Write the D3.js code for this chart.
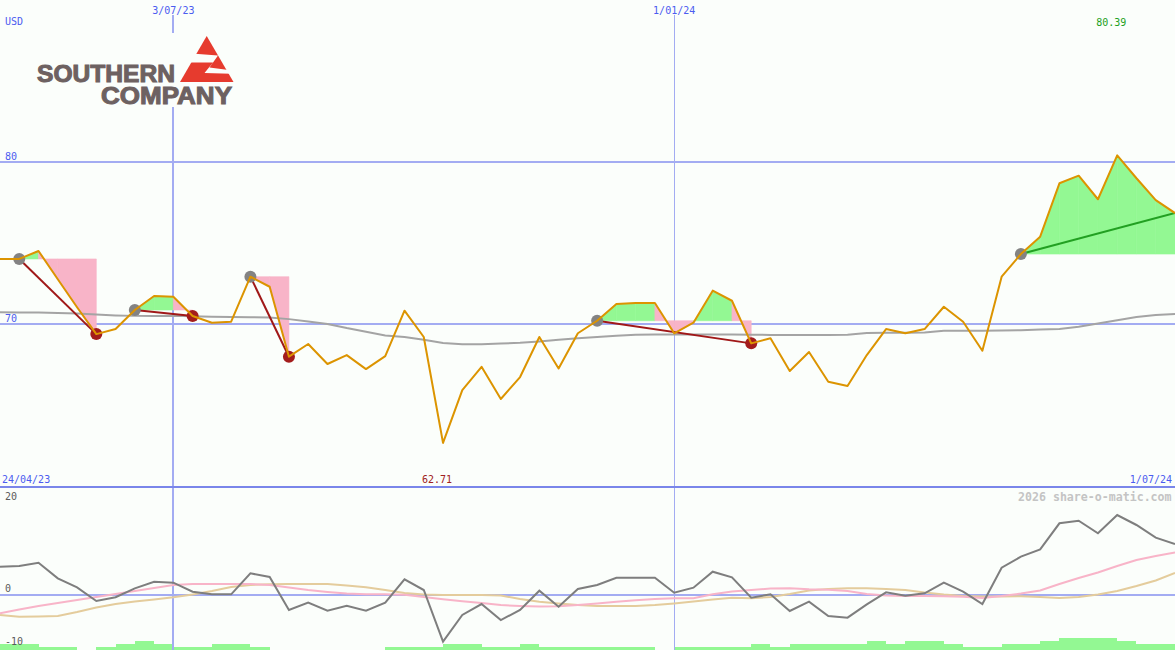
<!DOCTYPE html>
<html>
<head>
<meta charset="utf-8">
<script src="https://cdn.jsdelivr.net/npm/d3@7"></script>
<style>
  html, body { margin: 0; padding: 0; background: #fbfefb; overflow: hidden; }
</style>
</head>
<body>
<div id="chart"></div>
<script>
// weekly closes, first week 1/05/23, last week 1/07/24
const firstWeek = '2023-05-01';
const rangeLabels = ['24/04/23', '1/07/24'];
const currency = 'USD';
const credit = '2026 share-o-matic.com';

const price = [
  74.02, 74.02, 74.51, 72.77, 71.05, 69.40, 69.71, 70.88, 71.74, 71.70,
  70.51, 70.10, 70.16, 72.93, 72.31, 68.01, 68.79, 67.56, 68.11, 67.25,
  68.05, 70.84, 69.22, 62.71, 65.96, 67.39, 65.41, 66.76, 69.22, 67.29,
  69.45, 70.22, 71.25, 71.31, 71.31, 69.45, 70.10, 72.07, 71.45, 68.83,
  69.14, 67.13, 68.30, 66.47, 66.21, 68.11, 69.71, 69.45, 69.71, 71.08,
  70.16, 68.38, 72.93, 74.32, 75.39, 78.67, 79.14, 77.69, 80.39, 78.98,
  77.64, 76.84
];
const longAverage = [
  70.74, 70.73, 70.72, 70.70, 70.66, 70.60, 70.55, 70.52, 70.51, 70.52,
  70.49, 70.46, 70.45, 70.44, 70.42, 70.32, 70.17, 70.02, 69.77, 69.55,
  69.32, 69.22, 69.05, 68.85, 68.77, 68.77, 68.82, 68.87, 68.95, 69.05,
  69.14, 69.22, 69.30, 69.36, 69.38, 69.38, 69.38, 69.38, 69.38, 69.36,
  69.35, 69.34, 69.34, 69.34, 69.36, 69.46, 69.48, 69.48, 69.50, 69.60,
  69.61, 69.61, 69.62, 69.64, 69.69, 69.72, 69.85, 70.05, 70.25, 70.45,
  70.58, 70.64
];
const momentum = [
  5.34, 5.47, 6.09, 3.15, 1.45, -1.13, -0.43, 1.26, 2.51, 2.32,
  0.62, 0.13, 0.13, 4.09, 3.40, -2.83, -1.45, -2.96, -2.02, -2.96,
  -1.45, 2.96, 0.94, -8.81, -3.77, -1.70, -4.72, -2.83, 0.81, -2.21,
  1.13, 1.89, 3.26, 3.26, 3.26, 0.43, 1.38, 4.40, 3.34, -0.51,
  0.13, -3.02, -1.26, -3.96, -4.28, -1.77, 0.51, -0.13, 0.32, 2.32,
  0.62, -1.70, 5.15, 7.23, 8.62, 13.53, 14.02, 11.64, 15.09, 13.21,
  10.81, 9.62
];
const momentumFast = [
  -3.45, -2.74, -2.08, -1.51, -0.94, -0.38, 0.19, 0.75, 1.32, 1.89,
  2.08, 2.08, 2.08, 2.08, 1.89, 1.42, 0.94, 0.57, 0.28, 0.13,
  0.13, 0.06, -0.38, -0.79, -1.19, -1.51, -1.89, -2.08, -2.19, -2.13,
  -1.89, -1.60, -1.28, -1.00, -0.75, -0.62, -0.62, 0.13, 0.64, 0.94,
  1.23, 1.26, 1.08, 1.00, 0.75, 0.19, -0.09, -0.19, -0.19, -0.23,
  -0.32, -0.57, -0.19, 0.28, 0.85, 2.08, 3.21, 4.25, 5.47, 6.60,
  7.36, 8.02
];
const momentumSlow = [
  -3.77, -4.09, -4.06, -3.96, -3.21, -2.36, -1.70, -1.23, -0.85, -0.43,
  0.09, 0.75, 1.51, 1.89, 2.04, 2.08, 2.08, 2.08, 1.79, 1.45,
  0.94, 0.38, 0.09, 0.00, 0.00, 0.00, -0.09, -0.75, -1.26, -1.60,
  -1.89, -2.08, -2.08, -2.08, -1.89, -1.60, -1.23, -0.85, -0.51, -0.62,
  -0.38, 0.19, 0.85, 1.13, 1.26, 1.26, 1.13, 0.94, 0.47, 0.09,
  -0.19, -0.28, -0.28, -0.23, -0.38, -0.57, -0.38, 0.09, 0.75, 1.70,
  2.74, 4.15
];
const volume = [
  2, 2, 1, 1, 0, 1, 2, 3, 2, 1,
  1, 2, 2, 1, 0, 0, 0, 0, 0, 0,
  1, 1, 1, 2, 2, 1, 1, 2, 1, 1,
  1, 1, 1, 1, 0, 1, 1, 1, 1, 2,
  1, 2, 2, 2, 2, 3, 2, 3, 3, 2,
  1, 1, 2, 2, 3, 4, 4, 4, 3, 2,
  2, 2
];

// trades: week index of buy and sell (null = still open)
const tradeBuy = [1, 7, 13, 31, 53];
const tradeSell = [5, 10, 15, 39, null];

const priceTicks = [80, 70];
const oscTicks = [20, 0, -10];
const dateLines = ['2023-07-03', '2024-01-01'];
const dateLineLabels = ['3/07/23', '1/01/24'];

const W = 1175, H = 650;
const BG = '#fbfefb';
const BLUE_TEXT = '#4b5cf0';
const GRID = '#a3acf2';
const GREEN_FILL = '#93f893';
const PINK_FILL = '#f8b4c8';
const MONO = '"DejaVu Sans Mono", monospace';

const parse = d3.timeParse('%Y-%m-%d');
const start = parse(firstWeek);
const dates = price.map((_, i) => d3.timeDay.offset(start, 7 * i));

const x = d3.scaleTime().domain([dates[0], dates[dates.length - 1]]).range([0, W]);
const yP = d3.scaleLinear().domain([60, 90]).range([487, -1]);
const yO = d3.scaleLinear().domain([-10, 20]).range([648, 489]);
const yV = d3.scaleLinear().domain([0, 4]).range([650, 638.4]);

const svg = d3.select('#chart').append('svg')
  .attr('width', W).attr('height', H)
  .style('display', 'block');

svg.append('rect').attr('width', W).attr('height', H).attr('fill', BG);

// Volume bars (bottom strip)
svg.append('g').attr('shape-rendering', 'crispEdges')
  .selectAll('rect')
  .data(volume.map((v, i) => ({ v, i })).filter(d => d.v > 0))
  .join('rect')
  .attr('x', d => x(dates[d.i]))
  .attr('width', d => (d.i + 1 < dates.length ? x(dates[d.i + 1]) : W) - x(dates[d.i]))
  .attr('y', d => yV(d.v))
  .attr('height', d => yV(0) - yV(d.v))
  .attr('fill', GREEN_FILL);

// Horizontal grid
const grid = svg.append('g').attr('shape-rendering', 'crispEdges');
grid.selectAll('line.p')
  .data(priceTicks)
  .join('line')
  .attr('x1', 0).attr('x2', W)
  .attr('y1', d => yP(d)).attr('y2', d => yP(d))
  .attr('stroke', GRID).attr('stroke-width', 2);

grid.append('line')
  .attr('x1', 0).attr('x2', W)
  .attr('y1', yO(0)).attr('y2', yO(0))
  .attr('stroke', GRID).attr('stroke-width', 2);

// Vertical date lines
grid.selectAll('line.d')
  .data(dateLines)
  .join('line')
  .attr('x1', d => x(parse(d))).attr('x2', d => x(parse(d)))
  .attr('y1', 15).attr('y2', H)
  .attr('stroke', GRID)
  .attr('stroke-width', (d, i) => (i === 0 ? 2 : 1));

// Separator between price and indicator panels
grid.append('line')
  .attr('x1', 0).attr('x2', W)
  .attr('y1', yP(60)).attr('y2', yP(60))
  .attr('stroke', '#7a86ea').attr('stroke-width', 2);

// Trade shading: each week coloured by where the week closes vs the buy price
const trades = tradeBuy.map((b, k) => {
  const s = tradeSell[k] === null ? price.length - 1 : tradeSell[k];
  return { b, s, open: tradeSell[k] === null, entry: price[b] };
});

const fills = svg.append('g');
trades.forEach(t => {
  for (let k = t.b; k < t.s; k++) {
    const up = price[k + 1] >= t.entry;
    const pts = [
      [x(dates[k]), yP(t.entry)],
      [x(dates[k]), yP(price[k])],
      [x(dates[k + 1]), yP(price[k + 1])],
      [x(dates[k + 1]), yP(t.entry)]
    ];
    fills.append('path')
      .attr('d', d3.line()(pts) + 'Z')
      .attr('fill', up ? GREEN_FILL : PINK_FILL)
      .attr('stroke', up ? GREEN_FILL : PINK_FILL)
      .attr('stroke-width', 0.6);
  }
});

// Long moving average
svg.append('path')
  .datum(longAverage)
  .attr('d', d3.line().x((d, i) => x(dates[i])).y(d => yP(d)))
  .attr('fill', 'none').attr('stroke', '#a4a4a4').attr('stroke-width', 2);

// Trade lines
svg.append('g').selectAll('line')
  .data(trades)
  .join('line')
  .attr('x1', d => x(dates[d.b])).attr('y1', d => yP(price[d.b]))
  .attr('x2', d => x(dates[d.s])).attr('y2', d => yP(price[d.s]))
  .attr('stroke', d => (price[d.s] >= d.entry ? '#22a022' : '#a01818'))
  .attr('stroke-width', 2);

// Buy / sell markers
const markers = svg.append('g');
markers.selectAll('circle.b')
  .data(tradeBuy)
  .join('circle')
  .attr('cx', d => x(dates[d])).attr('cy', d => yP(price[d]))
  .attr('r', 6).attr('fill', '#838383');
markers.selectAll('circle.s')
  .data(tradeSell.filter(d => d !== null))
  .join('circle')
  .attr('cx', d => x(dates[d])).attr('cy', d => yP(price[d]))
  .attr('r', 6).attr('fill', '#a31c1c');

// Price line
svg.append('path')
  .datum(price)
  .attr('d', d3.line().x((d, i) => x(dates[i])).y(d => yP(d)))
  .attr('fill', 'none').attr('stroke', '#dc9400').attr('stroke-width', 2)
  .attr('stroke-linejoin', 'round');

// Oscillators
const oscLine = d3.line().x((d, i) => x(dates[i])).y(d => yO(d));
[[momentumSlow, '#e4cc9c'], [momentumFast, '#f8b4c8'], [momentum, '#7e7e7e']].forEach(([s, c]) => {
  svg.append('path')
    .datum(s)
    .attr('d', oscLine)
    .attr('fill', 'none').attr('stroke', c).attr('stroke-width', 2);
});

// Logo
const logo = svg.append('g');
logo.append('rect').attr('x', 30).attr('y', 33).attr('width', 212).attr('height', 74).attr('fill', BG);
logo.append('path')
  .attr('d', 'M206.7,36 L180,82 L233.5,82 Z')
  .attr('fill', '#e63b2e');
logo.append('path')
  .attr('d', 'M185,53 L218,55.5 L209.5,67.5 L240,71.5 L240,74 L204.5,73 L213,62.5 L185,62.5 Z')
  .attr('fill', BG);
logo.append('text')
  .attr('x', 37).attr('y', 82)
  .attr('textLength', 138).attr('lengthAdjust', 'spacingAndGlyphs')
  .style('font-family', '"Liberation Sans", Arial, sans-serif')
  .style('font-weight', 'bold').style('font-size', '23px')
  .attr('fill', '#6d6161').attr('stroke', '#6d6161').attr('stroke-width', 1)
  .text('SOUTHERN');
logo.append('text')
  .attr('x', 101).attr('y', 104.3)
  .attr('textLength', 131).attr('lengthAdjust', 'spacingAndGlyphs')
  .style('font-family', '"Liberation Sans", Arial, sans-serif')
  .style('font-weight', 'bold').style('font-size', '23px')
  .attr('fill', '#6d6161').attr('stroke', '#6d6161').attr('stroke-width', 1)
  .text('COMPANY');

// Texts
const txt = svg.append('g').style('font-family', MONO).style('font-size', '10px');

txt.append('text').attr('x', 5).attr('y', 25).attr('fill', BLUE_TEXT).text(currency);

txt.selectAll('text.dl')
  .data(dateLines)
  .join('text')
  .attr('x', d => x(parse(d))).attr('y', 13.5)
  .attr('text-anchor', 'middle').attr('fill', BLUE_TEXT)
  .text((d, i) => dateLineLabels[i]);

txt.selectAll('text.pt')
  .data(priceTicks)
  .join('text')
  .attr('x', 5).attr('y', d => yP(d) - 2)
  .attr('fill', BLUE_TEXT)
  .text(d => d);

txt.selectAll('text.ot')
  .data(oscTicks)
  .join('text')
  .attr('x', 5).attr('y', d => Math.max(yO(d) - 3, 499.5))
  .attr('fill', '#5a5a5a')
  .text(d => d);

const iMax = d3.maxIndex(price), iMin = d3.minIndex(price);
txt.append('text')
  .attr('x', x(dates[iMax]) - 21).attr('y', 25.5)
  .attr('fill', '#22a022').text(price[iMax].toFixed(2));
txt.append('text')
  .attr('x', x(dates[iMin]) - 21).attr('y', 483)
  .attr('fill', '#a02020').text(price[iMin].toFixed(2));

txt.append('text').attr('x', 2).attr('y', 483).attr('fill', BLUE_TEXT).text(rangeLabels[0]);
txt.append('text').attr('x', 1172).attr('y', 483).attr('text-anchor', 'end')
  .attr('fill', BLUE_TEXT).text(rangeLabels[1]);

txt.append('text')
  .attr('x', 1018).attr('y', 501)
  .style('font-size', '11.6px').style('font-weight', 'bold')
  .attr('fill', '#c4c4c4')
  .text(credit);
</script>
</body>
</html>
